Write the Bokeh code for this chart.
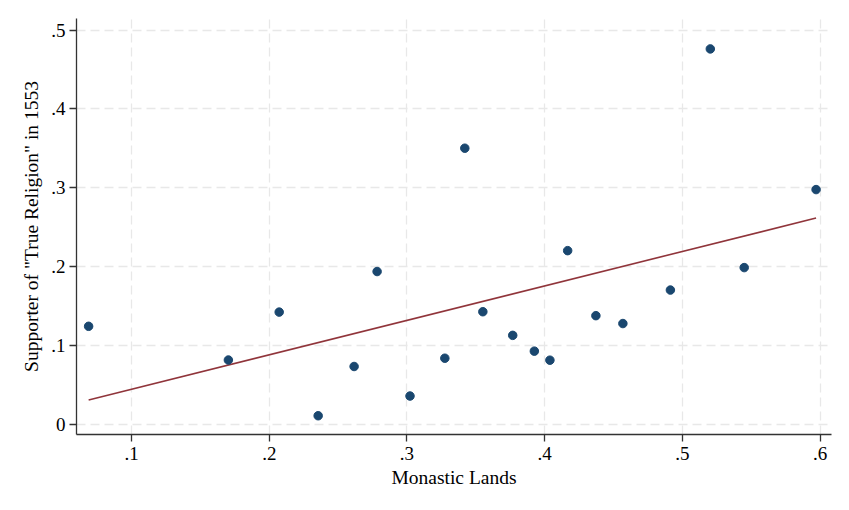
from bokeh.plotting import figure
from bokeh.models import Range1d, FixedTicker
from bokeh.embed import file_html
from bokeh.resources import INLINE

# Data
monastic_lands = [0.0688, 0.1703, 0.2072, 0.2355, 0.2616, 0.2783, 0.3022, 0.3275,
                  0.3420, 0.3551, 0.3768, 0.3925, 0.4038, 0.4167, 0.4372, 0.4568,
                  0.4913, 0.5203, 0.5449, 0.5971]
true_religion = [0.1240, 0.0812, 0.1420, 0.0105, 0.0730, 0.1935, 0.0355, 0.0835,
                 0.3500, 0.1425, 0.1125, 0.0925, 0.0810, 0.2200, 0.1375, 0.1275,
                 0.1700, 0.4760, 0.1985, 0.2975]
# Fitted values (linear fit) at the ends of the data
fit_x = [0.0688, 0.5971]
fit_y = [0.0305, 0.2614]
x_ticks = [0.1, 0.2, 0.3, 0.4, 0.5, 0.6]
y_ticks = [0.0, 0.1, 0.2, 0.3, 0.4, 0.5]
x_tick_labels = [".1", ".2", ".3", ".4", ".5", ".6"]
y_tick_labels = ["0", ".1", ".2", ".3", ".4", ".5"]

FONT = "Liberation Serif"

p = figure(width=841, height=500, output_backend="svg", toolbar_location=None,
           x_range=Range1d(0.0600, 0.6083), y_range=Range1d(-0.0133, 0.5146),
           min_border_left=76, min_border_right=10, min_border_top=18, min_border_bottom=66)
p.outline_line_color = None
p.background_fill_color = "white"
p.border_fill_color = "white"

p.line(fit_x, fit_y, line_color="#90353b", line_width=1.6)
p.scatter(monastic_lands, true_religion, size=8.5, fill_color="#1a476f",
          line_color="#1a476f")

p.xaxis.ticker = FixedTicker(ticks=x_ticks)
p.yaxis.ticker = FixedTicker(ticks=y_ticks)
p.xaxis.major_label_overrides = {t: l for t, l in zip(x_ticks, x_tick_labels)}
p.yaxis.major_label_overrides = {t: l for t, l in zip(y_ticks, y_tick_labels)}
p.xaxis.axis_label = "Monastic Lands"
p.yaxis.axis_label = 'Supporter of "True Religion" in 1553'

for ax in (p.xaxis, p.yaxis):
    ax.axis_line_color = "#333333"
    ax.axis_line_width = 1.3
    ax.major_tick_line_color = "#333333"
    ax.major_tick_line_width = 1.3
    ax.major_tick_out = 7
    ax.major_tick_in = 0
    ax.minor_tick_line_color = None
    ax.major_label_text_font = FONT
    ax.major_label_text_font_size = "19px"
    ax.major_label_text_color = "black"
    ax.axis_label_text_font = FONT
    ax.axis_label_text_font_size = "19.5px"
    ax.axis_label_text_font_style = "normal"
    ax.axis_label_text_color = "black"

p.xaxis.major_label_standoff = 5
p.yaxis.major_label_standoff = 4
p.yaxis.major_label_orientation = "horizontal"
p.xaxis.axis_label_standoff = 4
p.yaxis.axis_label_standoff = 6

for g in (p.xgrid, p.ygrid):
    g.grid_line_color = "#e8e8e8"
    g.grid_line_width = 1.3
    g.grid_line_dash = "9 5"
p.xgrid.ticker = FixedTicker(ticks=x_ticks)
p.ygrid.ticker = FixedTicker(ticks=y_ticks)

open("out.html", "w").write(file_html(p, INLINE))
